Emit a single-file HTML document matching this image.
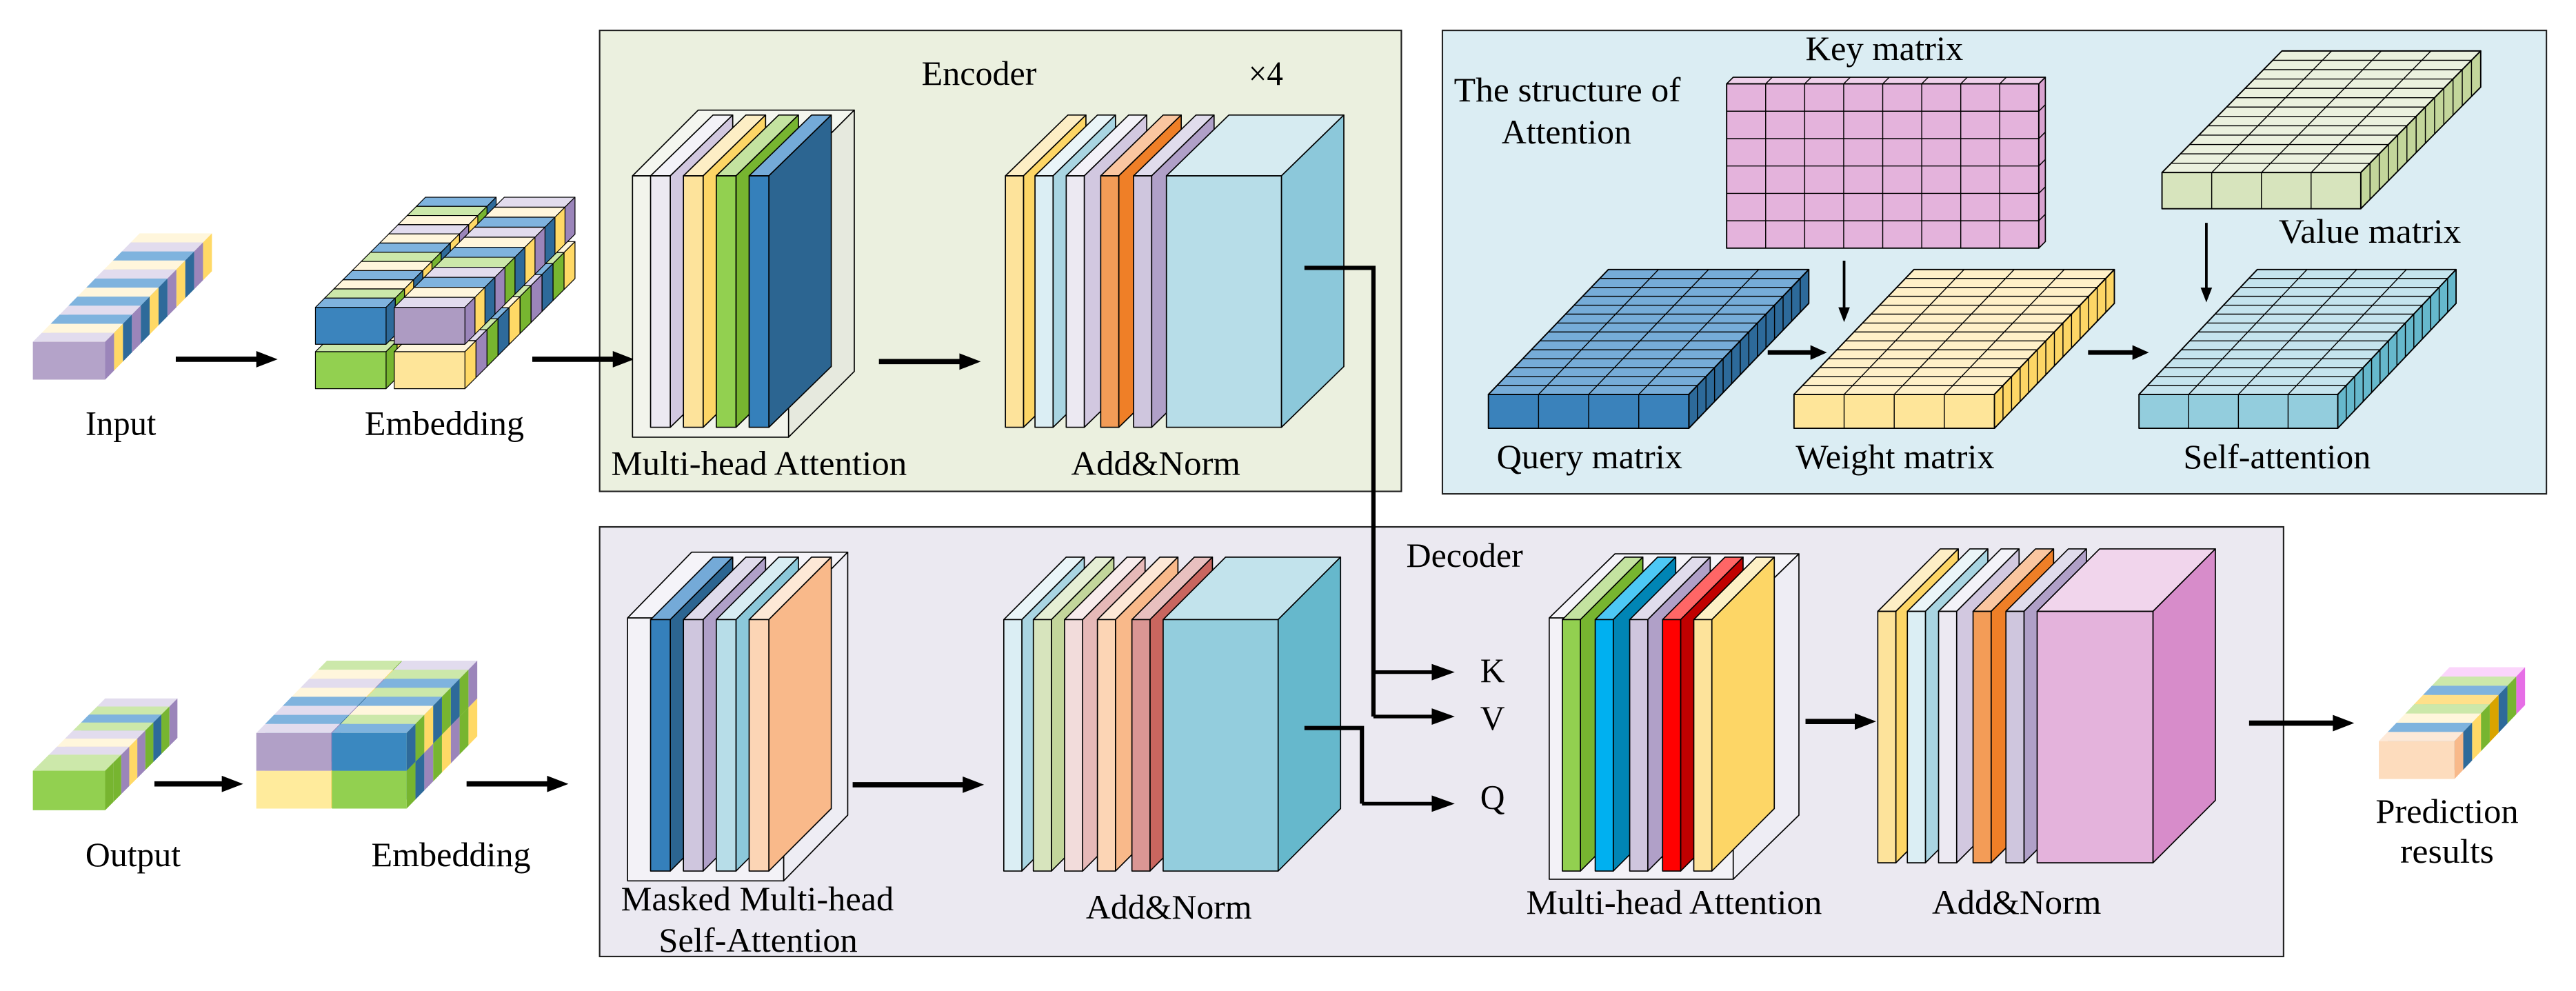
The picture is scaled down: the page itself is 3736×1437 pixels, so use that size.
<!DOCTYPE html>
<html><head><meta charset="utf-8">
<style>
html,body{margin:0;padding:0;background:#fff;}
svg{display:block;}
svg text{font-family:"Liberation Serif","Times New Roman","DejaVu Serif",serif !important;fill:#000;}
</style></head>
<body>
<svg id="svg" xmlns="http://www.w3.org/2000/svg" width="3736" height="1437" viewBox="0 0 1568 603" preserveAspectRatio="none">
<rect x="0" y="0" width="1568" height="603" fill="#fff"/>
<rect x="365" y="18.5" width="488" height="280.5" fill="#ebf0df" stroke="#222" stroke-width="0.9"/>
<rect x="878" y="18.5" width="672" height="282" fill="#dbedf3" stroke="#222" stroke-width="0.9"/>
<rect x="365" y="320.6" width="1025" height="261.4" fill="#ebe9f1" stroke="#222" stroke-width="0.9"/>
<g id="g"></g>
<g font-size="21" font-family="'Liberation Serif', 'Times New Roman', serif">
<text x="52" y="264.5" textLength="43" lengthAdjust="spacingAndGlyphs">Input</text>
<text x="222" y="264.5" textLength="97" lengthAdjust="spacingAndGlyphs">Embedding</text>
<text x="561" y="51.6" textLength="70" lengthAdjust="spacingAndGlyphs">Encoder</text>
<text x="760" y="51.6" textLength="21" lengthAdjust="spacingAndGlyphs">×4</text>
<text x="372" y="289" textLength="180" lengthAdjust="spacingAndGlyphs">Multi-head Attention</text>
<text x="652" y="289" textLength="103" lengthAdjust="spacingAndGlyphs">Add&amp;Norm</text>
<text x="1099" y="36.6" textLength="96" lengthAdjust="spacingAndGlyphs">Key matrix</text>
<text x="885" y="61.6" textLength="138" lengthAdjust="spacingAndGlyphs">The structure of</text>
<text x="914" y="87.3" textLength="79" lengthAdjust="spacingAndGlyphs">Attention</text>
<text x="1387" y="147.7" textLength="111" lengthAdjust="spacingAndGlyphs">Value matrix</text>
<text x="911" y="285" textLength="113" lengthAdjust="spacingAndGlyphs">Query matrix</text>
<text x="1093" y="285" textLength="121" lengthAdjust="spacingAndGlyphs">Weight matrix</text>
<text x="1329" y="285" textLength="114" lengthAdjust="spacingAndGlyphs">Self-attention</text>
<text x="856" y="345" textLength="71" lengthAdjust="spacingAndGlyphs">Decoder</text>
<text x="901" y="415" textLength="15" lengthAdjust="spacingAndGlyphs">K</text>
<text x="901" y="444" textLength="15" lengthAdjust="spacingAndGlyphs">V</text>
<text x="901" y="492" textLength="15" lengthAdjust="spacingAndGlyphs">Q</text>
<text x="52" y="527" textLength="58" lengthAdjust="spacingAndGlyphs">Output</text>
<text x="226" y="527" textLength="97" lengthAdjust="spacingAndGlyphs">Embedding</text>
<text x="378" y="554" textLength="166" lengthAdjust="spacingAndGlyphs">Masked Multi-head</text>
<text x="401" y="579" textLength="121" lengthAdjust="spacingAndGlyphs">Self-Attention</text>
<text x="661" y="559" textLength="101" lengthAdjust="spacingAndGlyphs">Add&amp;Norm</text>
<text x="929" y="556" textLength="180" lengthAdjust="spacingAndGlyphs">Multi-head Attention</text>
<text x="1176" y="556" textLength="103" lengthAdjust="spacingAndGlyphs">Add&amp;Norm</text>
<text x="1446" y="500.6" textLength="87" lengthAdjust="spacingAndGlyphs">Prediction</text>
<text x="1461" y="525" textLength="57" lengthAdjust="spacingAndGlyphs">results</text>
</g>
</svg>
<script>
var NS="http://www.w3.org/2000/svg";var G=document.getElementById('g');
function el(t,a){var e=document.createElementNS(NS,t);for(var k in a)e.setAttribute(k,a[k]);G.appendChild(e);return e;}
function P(pts,f,s,sw){el('polygon',{points:pts.map(function(p){return p[0].toFixed(2)+','+p[1].toFixed(2)}).join(' '),fill:f,stroke:s||'none','stroke-width':sw||0.7,'stroke-linejoin':'round'});}
function L(x1,y1,x2,y2,sw,c){el('line',{x1:x1,y1:y1,x2:x2,y2:y2,stroke:c||'#000','stroke-width':sw||0.6});}
function PL(pts,sw){el('polyline',{points:pts.map(function(p){return p.join(',')}).join(' '),fill:'none',stroke:'#000','stroke-width':sw});}
function arrowH(x1,x2,y,sw,hl,hh){L(x1,y,x2-hl+1,y,sw);P([[x2-hl,y-hh],[x2,y],[x2-hl,y+hh]],'#000');}
function arrowV(x,y1,y2,sw,hl,hh){L(x,y1,x,y2-hl+1,sw);P([[x-hh,y2-hl],[x,y2],[x+hh,y2-hl]],'#000');}
function plate(x,y,w,h,dx,dy,c,s){s=s||'#000';
 P([[x,y],[x+dx,y+dy],[x+w+dx,y+dy],[x+w,y]],c[1],s);
 P([[x+w,y],[x+w+dx,y+dy],[x+w+dx,y+h+dy],[x+w,y+h]],c[2],s);
 P([[x,y],[x+w,y],[x+w,y+h],[x,y+h]],c[0],s);}
var C={Y:['#fff2cc','#fff6dc','#ffd966'],L:['#d9d2e6','#e2dcee','#9b85ba'],B:['#6fa8d8','#7fb3de','#2e6a9a'],G:['#c3e2a0','#cce8aa','#77b530'],P:['#fde0c6','#fde9d8','#f8b98a'],K:['#fbc8fb','#fbd5fb','#e66ee6'],O:['#ffd966','#ffe08a','#d9a400']};
function stack(x,y,W,H,dx,dy,seq,ff,s){var n=seq.length,sx=dx/n,sy=dy/n;
 for(var i=n-1;i>=0;i--){var c=C[seq[i]].slice();if(i==0&&ff)c[0]=ff;var ox=x+sx*i,oy=y+sy*i;
  P([[ox,oy],[ox+sx,oy+sy],[ox+W+sx,oy+sy],[ox+W,oy]],c[1],s,0.5);
  P([[ox+W,oy],[ox+W+sx,oy+sy],[ox+W+sx,oy+H+sy],[ox+W,oy+H]],c[2],s,0.5);
  P([[ox,oy],[ox+W,oy],[ox+W,oy+H],[ox,oy+H]],c[0],s,0.5);}}
function slab(x,y,W,H,dx,dy,cols,rows,c){
 P([[x,y],[x+dx,y+dy],[x+W+dx,y+dy],[x+W,y]],c[1],'#000',0.8);
 P([[x+W,y],[x+W+dx,y+dy],[x+W+dx,y+H+dy],[x+W,y+H]],c[2],'#000',0.8);
 P([[x,y],[x+W,y],[x+W,y+H],[x,y+H]],c[0],'#000',0.8);
 for(var i=1;i<cols;i++){var xx=x+W*i/cols;L(xx,y,xx+dx,y+dy,0.6);L(xx,y,xx,y+H,0.6);}
 for(var j=1;j<rows;j++){var ox=x+dx*j/rows,oy=y+dy*j/rows;L(ox,oy,ox+W,oy,0.6);L(ox+W,oy,ox+W,oy+H,0.6);}}
stack(20,208,44,23,65,-66,['L','Y','B','L','B','Y','B','L','Y','B','L','Y'],'#b4a3c9');
var ed=[67,-67];
var cells=[[192,214,['G','Y','B','L','G','Y','B','G','L','Y'],'#92d050'],[240,214,['Y','L','G','B','Y','G','L','B','G','Y'],'#fee599'],
[192,187,['B','G','Y','B','Y','G','B','Y','L','Y','G','B'],'#3b84bd'],[240,187,['L','Y','B','L','G','B','Y','L','B','Y','L'],'#ad9bc2']];
cells.forEach(function(c){stack(c[0],c[1],43,22.5,ed[0],ed[1],c[2],c[3],'#000');});
arrowH(107,169,218.6,3.2,13,5);
arrowH(324,386,218.6,3.2,13,5);
stack(20,469,44,24,44,-44,['G','G','L','Y','L','G','B','G','L'],'#92d050');
cells=[[156,469,['Y','L','Y','L','G','Y','B','G'],'#ffeb9c'],[202,469,['G','B','L','G','Y','L','G','Y'],'#92d050'],
[156,446,['L','B','L','B','Y','L','Y','G'],'#b1a0c7'],[202,446,['B','G','Y','B','G','B','G','L'],'#3a88c0']];
cells.forEach(function(c){stack(c[0],c[1],45.5,23,43,-44,c[2],c[3]);});
arrowH(94,148,477,3.2,13,5);
arrowH(284,346,477,3.2,13,5);
stack(1448,451,46,23,43,-45,['P','B','Y','G','O','B','G','K'],'#fddcbd');
arrowH(1369,1433,440,3.2,13,5);
var W1=['#ece9f2','#f3f2f8','#d2c8e0'],YY=['#fde39b','#fdeec5','#fdd666'],GR=['#92d050','#c4e3a0','#77b530'],DB=['#3580bb','#74aad8','#2c6591'],
LB=['#dbeef4','#eaf5f8','#a9d5e2'],OR=['#f39c57','#fac6a0','#ef7f27'],LV=['#cfc6de','#e0dcec','#b0a0c8'];
plate(385,107,95,159,40,-40,['#f2f4ec','#f4f6ef','#e6e9de']);
[[396,W1],[416,YY],[436,GR],[456,DB]].forEach(function(p){plate(p[0],107,12,153,38,-37,p[1]);});
arrowH(535,597,220,3.2,13,5);
[[612,YY],[630,LB],[649,W1],[670,OR],[690,LV]].forEach(function(p){plate(p[0],107,11,153,38,-37,p[1]);});
plate(710,107,70,153,38,-37,['#b7dde8','#d6ebf1','#8cc8da']);
plate(382,376,95,160,39,-40,['#f3f2f7','#f5f4f9','#eeedf4']);
[[396,DB],[416,LV],[436,['#b7dde8','#d8edf3','#8cc8da']],[456,['#fcd5b5','#fde8d6','#f9b98a']]].forEach(function(p){plate(p[0],377,12,153,38,-38,p[1]);});
arrowH(519,599,477.5,3.2,13,5);
[[611,LB],[629,['#d7e4bd','#e6efd5','#c3d69b']],[648,['#f2dcdb','#f8ecec','#e6b9b8']],[668,['#fcd5b5','#fde8d6','#f9b98a']],[689,['#da9694','#e8c0bf','#c9665f']]].forEach(function(p){plate(p[0],377,11,153,38,-38,p[1]);});
plate(708,377,70,153,38,-38,['#93cddd','#c2e3ec','#66b8cc']);
plate(943,376,112,159,40,-39,['#f3f2f7','#f5f4f9','#eeedf4']);
[[951,GR],[971,['#00b0f0','#4dc8f5','#0085b5']],[992,LV],[1012,['#ff0000','#ff6666','#c00000']],[1031,['#fde39b','#fdf0c5','#fdd666']]].forEach(function(p){plate(p[0],377,11,153,38,-38,p[1]);});
arrowH(1099,1142,439,3.2,13,5);
[[1143,YY],[1161,LB],[1180,W1],[1201,OR],[1221,LV]].forEach(function(p){plate(p[0],372,11,153,38,-38,p[1]);});
plate(1240,372,70.5,153,38,-38,['#e4b3dc','#f1d5ec','#d78cca']);
PL([[794,163],[836,163],[836,436]],2.6);
arrowH(836,885.5,409,2.2,14,5);
arrowH(836,885.5,436,2.2,14,5);
PL([[794,443],[829,443],[829,489]],2.6);
arrowH(829,885.5,489,2.2,14,5);
(function(){var x=1051,y=51,W=190,H=100,dx=4,dy=-4;
 P([[x,y],[x+dx,y+dy],[x+W+dx,y+dy],[x+W,y]],'#efd0ea','#000',0.7);
 P([[x+W,y],[x+W+dx,y+dy],[x+W+dx,y+H+dy],[x+W,y+H]],'#d9a3d0','#000',0.7);
 P([[x,y],[x+W,y],[x+W,y+H],[x,y+H]],'#e4b3dc','#000',0.8);
 for(var i=1;i<8;i++){var xx=x+W*i/8;L(xx,y,xx,y+H,0.6);L(xx,y,xx+dx,y+dy,0.6);}
 for(var j=1;j<6;j++){var yy=y+H*j/6;L(x,yy,x+W,yy,0.6);L(x+W,yy,x+W+dx,yy+dy,0.6);}})();
arrowV(1122.5,158.6,196,1.6,9,3.5);
slab(1316,105,121,22,73,-74,4,13,['#d7e4bd','#ebf1de','#c3d69b']);
arrowV(1343,135.6,184,1.6,9,3.5);
slab(906,240,122,20.6,73,-76,4,14,['#3a82bb','#76acd8','#2d6a9a']);
slab(1092,240,122,20.6,73,-76,4,14,['#fee599','#fff0c8','#fdd666']);
slab(1302,240,121,20.6,72,-76,4,14,['#93cddd','#c5e4ee','#66b8cc']);
arrowH(1076,1112,214.5,2.8,10,4.5);
arrowH(1271,1308,214.5,2.8,10,4.5);
</script>
</body></html>
